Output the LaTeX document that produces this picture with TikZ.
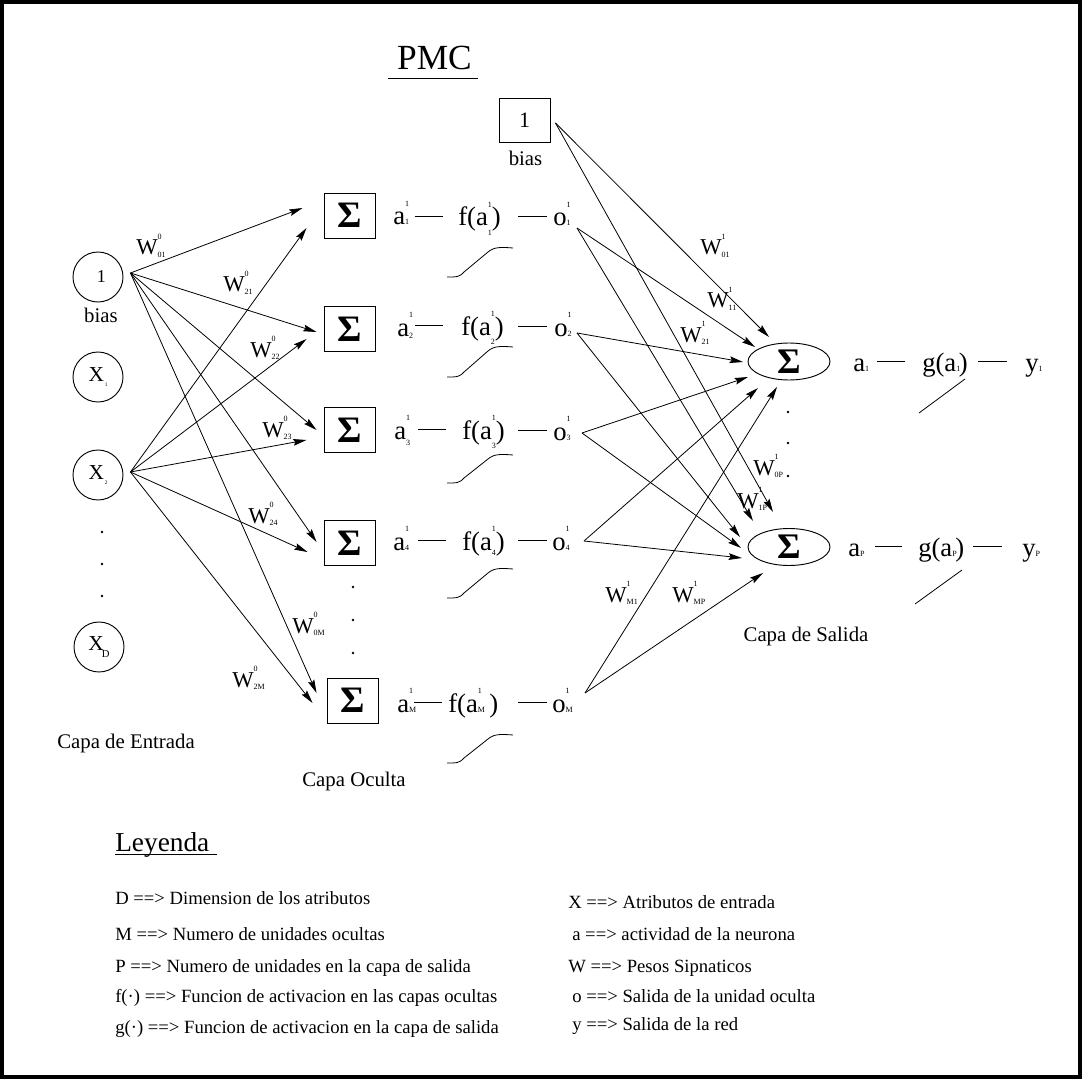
\documentclass[tikz,border=0pt]{standalone}
\usepackage{fontspec}
\setmainfont{Liberation Serif}
\usetikzlibrary{arrows.meta,shapes.geometric}
\newcommand\tnyf{\fontsize{6}{6}\selectfont}
\newcommand\supsb[4][0em]{#2\rlap{\raisebox{0.7em}{\tnyf #3}}\raisebox{-#1}{\tnyf #4}}
\newcommand\xsubb[1]{X\raisebox{-0.25em}{\fontsize{4}{4}\selectfont\,#1}}
\tikzset{
  ln/.style={line width=0.6pt},
  arr/.style={line width=0.6pt,-{Stealth[length=10pt,width=5pt,inset=1.5pt]}},
  incirc/.style={circle,draw,line width=0.7pt,minimum size=37.5pt,inner sep=0pt,font=\fontsize{16}{16}\selectfont},
  sbox/.style={rectangle,draw,line width=0.7pt,minimum width=38.25pt,minimum height=33.75pt,inner sep=0pt,font=\fontsize{28}{28}\selectfont\bfseries},
  sell/.style={ellipse,draw,line width=0.7pt,minimum width=61.5pt,minimum height=27.75pt,inner sep=0pt,font=\fontsize{27}{27}\selectfont\bfseries},
  rowtxt/.style={anchor=base west,inner sep=0pt,text height=15pt,text depth=0pt,font=\fontsize{20}{20}\selectfont},
  wlab/.style={anchor=base west,inner sep=0pt,font=\fontsize{17}{17}\selectfont},
  captxt/.style={anchor=base,inner sep=0pt,font=\fontsize{15.6}{16}\selectfont},
  legtxt/.style={anchor=base west,inner sep=0pt,font=\fontsize{14}{14}\selectfont},
}
\begin{document}
\begin{tikzpicture}[x=0.75pt,y=-0.75pt]
\useasboundingbox (0,0) rectangle (1084,1080);
\draw[line width=2.4pt] (2,2) rectangle (1080,1077);

% title
\node[anchor=base,inner sep=0pt,font=\fontsize{26.5}{27}\selectfont] (pmc) at (434.5,70) {PMC};
\draw[ln] ([shift={(-9,8)}]pmc.base west) -- ([shift={(6,8)}]pmc.base east);

% input layer
\node[incirc] (c0) at (98,277) {\fontsize{13.5}{13.5}\selectfont\kern5pt 1};
\node[captxt] (bias0) at (101,323) {bias};
\node[incirc] (c1) at (98,377) {\xsubb{1}};
\node[incirc] (c2) at (98,475) {\xsubb{2}};
\node[incirc] (cD) at (99,647) {X\kern-1.5pt\raisebox{-0.3em}{\fontsize{8}{8}\selectfont D}};
\fill (102,532) circle (1.3);
\fill (102,564) circle (1.3);
\fill (102,596) circle (1.3);
\node[captxt] (capent) at (126,748) {Capa de Entrada};

% hidden layer
\node[sbox] (h1) at (349.5,215.5) {Σ};
\node[sbox] (h2) at (349.5,329) {Σ};
\node[sbox] (h3) at (349.5,430) {Σ};
\node[sbox] (h4) at (349.5,543) {Σ};
\node[sbox] (hM) at (352.5,700.5) {Σ};
\fill (353,587) circle (1.3);
\fill (353,620) circle (1.3);
\fill (353,653) circle (1.3);
\node[captxt] (capocu) at (354,786) {Capa Oculta};

% input -> hidden
\coordinate (vb) at ([shift={(7,-4)}]c0.east);
\coordinate (vx) at ([shift={(7,-3)}]c2.east);
\draw[arr] (vb) -- ([shift={(-21,-7.5)}]h1.west);
\draw[arr] (vb) -- ([shift={(-7,3)}]h2.west);
\draw[arr] (vb) -- ([shift={(-7,0)}]h3.west);
\draw[arr] (vb) -- ([shift={(-7,-1)}]h4.west);
\draw[arr] (vb) -- ([shift={(-10,-7.5)}]hM.west);
\draw[arr] (vx) -- ([shift={(-17,12.5)}]h1.west);
\draw[arr] (vx) -- ([shift={(-17,10)}]h2.west);
\draw[arr] (vx) -- ([shift={(-17,10)}]h3.west);
\draw[arr] (vx) -- ([shift={(-16,9)}]h4.west);
\draw[arr] (vx) -- ([shift={(-14,2.5)}]hM.west);

% input weight labels
\node[wlab] (w001) at (136,255) {\supsb[0.1em]{W}{0}{01}};
\node[wlab] (w021) at (223,292) {\supsb[0.1em]{W}{0}{21}};
\node[wlab] (w022) at (250,357) {\supsb[0.1em]{W}{0}{22}};
\node[wlab] (w023) at (262,437) {\supsb[0.1em]{W}{0}{23}};
\node[wlab] (w024) at (248,523) {\supsb[0.1em]{W}{0}{24}};
\node[wlab] (w00M) at (292,633) {\supsb[0.1em]{W}{0}{0M}};
\node[wlab] (w02M) at (232,687) {\supsb[0.1em]{W}{0}{2M}};

% hidden rows
\node[rowtxt] (a1) at (393,225) {\supsb{a}{1}{1}};
\node[rowtxt] (f1) at (458,226) {f(a\supsb[0.35em]{}{1}{1})};
\node[rowtxt] (o1) at (553,226) {\supsb{o}{1}{1}};
\node[rowtxt] (a2) at (397,336) {\supsb[0.1em]{a}{1}{2}};
\node[rowtxt] (f2) at (461,335) {f(a\supsb[0.35em]{}{1}{2})};
\node[rowtxt] (o2) at (554,336) {\supsb{o}{1}{2}};
\node[rowtxt] (a3) at (394,439) {\supsb[0.25em]{a}{1}{3}};
\node[rowtxt] (f3) at (462,439) {f(a\supsb[0.35em]{}{1}{3})};
\node[rowtxt] (o3) at (553,440) {\supsb{o}{1}{3}};
\node[rowtxt] (a4) at (393,550) {\supsb{a}{1}{4}};
\node[rowtxt] (f4) at (462,550) {f(a\supsb[0.2em]{}{1}{4})};
\node[rowtxt] (o4) at (552,550) {\supsb{o}{1}{4}};
\node[rowtxt] (aM) at (397,712) {\supsb{a}{1}{M}};
\node[rowtxt] (fM) at (448,712) {f(a\supsb{}{1}{M}\,)};
\node[rowtxt] (oM) at (552,712) {\supsb{o}{1}{M}};
\foreach \r/\da/\db in {1/15/6,2/18/7,3/16/6,4/16/5,M/6/5}{
  \draw[ln] ([shift={(-\da,0)}]f\r.west) -- ++(-28,0);
  \draw[ln] ([shift={(-\db,0)}]o\r.west) -- ++(-29,0);
}
% sigmoid icons
\foreach \yb/\yt in {277/248,377/347,483/455,598/569,763/735}{
  \draw[ln] (447,\yb) .. controls (456,\yb) and (459,{\yb+0.5}) .. (464,{\yb-5})
    -- (488,{\yt+4}) .. controls (494,{\yt-1}) and (500,{\yt-1}) .. (513,\yt);
}

% top bias
\node[rectangle,draw,line width=0.7pt,minimum width=38.25pt,minimum height=33pt,inner sep=0pt,font=\fontsize{16.5}{17}\selectfont] (bb) at (524.5,120) {\raisebox{-4pt}{1}};
\node[captxt] (bias1) at (525.5,166) {bias};

% output layer
\node[sell] (s1) at (789,361.5) {Σ};
\node[sell] (sP) at (789,547) {Σ};
\fill (788,412) circle (1.3);
\fill (788,443) circle (1.3);
\fill (788,476) circle (1.3);
\node[captxt] (capsal) at (806,641) {Capa de Salida};

% hidden -> output
\coordinate (vt) at ([shift={(5,3)}]bb.east);
\coordinate (p1) at (577,228);
\coordinate (p2) at (577,333);
\coordinate (p3) at (582,433);
\coordinate (p4) at (584,541);
\coordinate (pM) at (585,693);
\draw[arr] (vt) -- ([shift={(-20,-24.5)}]s1.center);
\draw[arr] (p1) -- ([shift={(-34,-14.5)}]s1.center);
\draw[arr] (p2) -- ([shift={(-46,0.5)}]s1.center);
\draw[arr] (p3) -- ([shift={(-41,15.5)}]s1.center);
\draw[arr] (p4) -- ([shift={(-31,26.5)}]s1.center);
\draw[arr] (pM) -- ([shift={(-12,25.5)}]s1.center);
\draw[arr] (vt) -- ([shift={(-16,-35)}]sP.center);
\draw[arr] (p1) -- ([shift={(-36,-26)}]sP.center);
\draw[arr] (p2) -- ([shift={(-49,-10)}]sP.center);
\draw[arr] (p3) -- ([shift={(-48,1)}]sP.center);
\draw[arr] (p4) -- ([shift={(-47,11)}]sP.center);
\draw[arr] (pM) -- ([shift={(-26,26)}]sP.center);

% output weight labels
\node[wlab] (w101) at (700,255) {\supsb[0.1em]{W}{1}{01}};
\node[wlab] (w111) at (707,308) {\supsb[0.1em]{W}{1}{11}};
\node[wlab] (w121) at (680,342) {\supsb[0.1em]{W}{1}{21}};
\node[wlab] (w10P) at (753,475) {\supsb[0.1em]{W}{1}{0P}};
\node[wlab] (w11P) at (737,508) {\supsb[0.1em]{W}{1}{1P}};
\node[wlab] (w1M1) at (605,602) {\supsb[0.1em]{W}{1}{M1}};
\node[wlab] (w1MP) at (672,602) {\supsb[0.1em]{W}{1}{MP}};

% output rows
\node[rowtxt] (oa1) at (853,371) {\supsb{a}{}{1}};
\node[rowtxt] (og1) at (922,371) {g(a\supsb{}{}{1}\kern-1pt)};
\node[rowtxt] (oy1) at (1025,371) {\supsb{y}{}{1}};
\node[rowtxt] (oaP) at (848,556) {\supsb{a}{}{P}};
\node[rowtxt] (ogP) at (918,556) {g(a\supsb{}{}{P}\kern-1pt)};
\node[rowtxt] (oyP) at (1022,556) {\supsb{y}{}{P}};
\draw[ln] ([shift={(-17,0)}]og1.west) -- ++(-28,0);
\draw[ln] ([shift={(-18,0)}]oy1.west) -- ++(-29,0);
\draw[ln] ([shift={(-16,0)}]ogP.west) -- ++(-27,0);
\draw[ln] ([shift={(-20,0)}]oyP.west) -- ++(-29,0);
\draw[ln] (919,413) -- (965,379);
\draw[ln] (915,604) -- (962,570);

% legend
\node[anchor=base west,inner sep=0pt,font=\fontsize{20.5}{21}\selectfont] (ley) at (115,851) {Leyenda};
\draw[ln] ([shift={(0,3)}]ley.base west) -- ([shift={(7,3)}]ley.base east);
\node[legtxt] (l1) at (115,904) {D ==> Dimension de los atributos};
\node[legtxt] (l2) at (115,940) {M ==> Numero de unidades ocultas};
\node[legtxt] (l3) at (115,972) {P ==> Numero de unidades en la capa de salida};
\node[legtxt] (l4) at (115,1002) {f(·) ==> Funcion de activacion en las capas ocultas};
\node[legtxt] (l5) at (115,1033) {g(·) ==> Funcion de activacion en la capa de salida};
\node[legtxt] (r1) at (568,908) {X ==> Atributos de entrada};
\node[legtxt] (r2) at (572,940) {a ==> actividad de la neurona};
\node[legtxt] (r3) at (568,972) {W ==> Pesos Sipnaticos};
\node[legtxt] (r4) at (572,1002) {o ==> Salida de la unidad oculta};
\node[legtxt] (r5) at (572,1030) {y ==> Salida de la red};
\end{tikzpicture}
\end{document}
